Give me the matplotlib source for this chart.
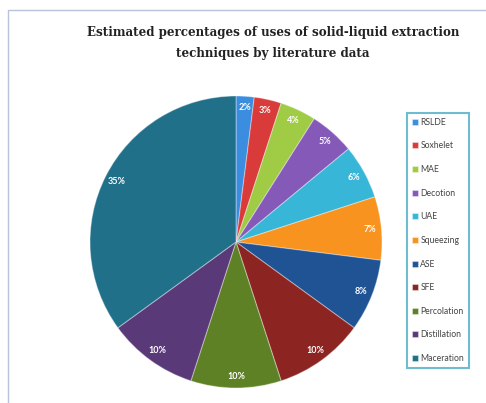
import matplotlib
matplotlib.use("Agg")
import matplotlib.pyplot as plt
from matplotlib.patches import Rectangle

techniques = ["RSLDE", "Soxhelet", "MAE", "Decotion", "UAE", "Squeezing",
              "ASE", "SFE", "Percolation", "Distillation", "Maceration"]
percentages = [2, 3, 4, 5, 6, 7, 8, 10, 10, 10, 35]
colors = ["#3b8de0", "#d93a3a", "#9fcb45", "#8559b8", "#38b6d8", "#f7931e",
          "#1f5394", "#8c2422", "#5f8126", "#5a3978", "#21708a"]

W, H = 486, 403
fig = plt.figure(figsize=(W / 100, H / 100), dpi=100)

# chart area border (only left and top visible in the crop)
fig.add_artist(Rectangle((8 / W, -0.1), 1.2, 1.1 - 10 / H,
                         transform=fig.transFigure, fill=False,
                         edgecolor="#b7c3d9", linewidth=1.0))

cx, cy, r = 236, 242, 146
ax = fig.add_axes([(cx - r) / W, (H - cy - r) / H, 2 * r / W, 2 * r / H])

wedges, texts, autotexts = ax.pie(
    percentages, colors=colors, startangle=90, counterclock=False,
    autopct="%d%%", pctdistance=0.92, radius=1.0,
    wedgeprops=dict(edgecolor=(1, 1, 1, 0.35), linewidth=0.8),
    textprops=dict(color="white", fontsize=6.5, family="Lato"))
for t in autotexts:
    t.set_fontweight("bold")
ax.set_xlim(-1, 1)
ax.set_ylim(-1, 1)
ax.set_aspect("equal")
ax.axis("off")

fig.text(273 / W, 1 - 26 / H,
         "Estimated percentages of uses of solid-liquid extraction\ntechniques by literature data",
         ha="center", va="top", fontsize=8.6, fontweight="bold",
         family="DejaVu Serif", color="#222222", linespacing=1.75)

leg = fig.legend(wedges, techniques, loc="upper left",
                 bbox_to_anchor=(407 / W, 1 - 113 / H),
                 prop=dict(family="Lato", size=6.2),
                 handlelength=0.7, handleheight=0.7, handletextpad=0.3,
                 labelspacing=1.7, borderpad=0.55, borderaxespad=0,
                 frameon=True, fancybox=False)
leg.get_frame().set_edgecolor("#4bacc6")
leg.get_frame().set_linewidth(1.5)
for txt in leg.get_texts():
    txt.set_color("#444444")

fig.savefig("out.png", dpi=100)
